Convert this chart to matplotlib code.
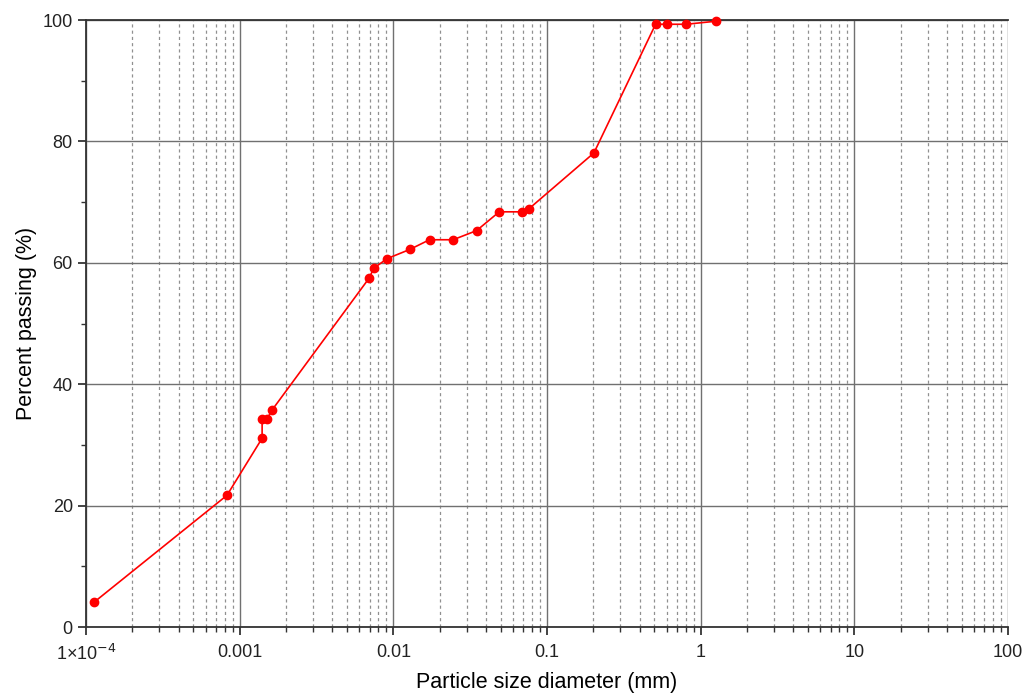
import numpy as np
import matplotlib
matplotlib.use("Agg")
import matplotlib.pyplot as plt
from matplotlib.ticker import LogLocator, FixedLocator, NullFormatter

plt.rcParams['font.family'] = ['Liberation Sans', 'DejaVu Sans']

# particle size (mm) and percent passing
size_mm = [1.13e-4, 8.27e-4, 1.40e-3, 1.40e-3, 1.51e-3, 1.62e-3,
           6.97e-3, 7.45e-3, 9.13e-3, 1.28e-2, 1.72e-2, 2.45e-2,
           3.48e-2, 4.89e-2, 6.90e-2, 7.63e-2, 0.202,
           0.509, 0.605, 0.805, 1.26]
passing = [4.1, 21.7, 31.1, 34.3, 34.3, 35.7,
           57.5, 59.1, 60.7, 62.2, 63.8, 63.8,
           65.3, 68.4, 68.4, 68.9, 78.1,
           99.3, 99.3, 99.3, 99.8]

x_ticks = [1e-4, 1e-3, 1e-2, 1e-1, 1, 10, 100]
x_labels = ["1×10$^{-4}$", "0.001", "0.01", "0.1", "1", "10", "100"]
y_ticks = [0, 20, 40, 60, 80, 100]

fig = plt.figure(figsize=(10.25, 6.97), dpi=100)
ax = fig.add_axes([0.0839, 0.1004, 0.8995, 0.8709])

ax.set_xscale('log')
ax.set_xlim(1e-4, 100)
ax.set_ylim(0, 100)

ax.plot(size_mm, passing, color='red', lw=1.2, marker='o', ms=6,
        markerfacecolor='red', markeredgecolor='red', zorder=3, clip_on=False)

ax.set_xticks(x_ticks)
ax.set_xticklabels(x_labels)
ax.xaxis.set_minor_locator(LogLocator(base=10, subs=np.arange(2, 10)))
ax.xaxis.set_minor_formatter(NullFormatter())
ax.set_yticks(y_ticks)
ax.yaxis.set_minor_locator(FixedLocator([10, 30, 50, 70, 90]))

ax.grid(which='major', axis='both', color='#707070', lw=1.0, ls='-')
ax.grid(which='minor', axis='x', color='#909090', lw=0.9, ls=(0, (2.5, 2.5)))
ax.set_axisbelow(True)

ax.spines['right'].set_visible(False)
for s in ['left', 'bottom', 'top']:
    ax.spines[s].set_linewidth(1.3)
    ax.spines[s].set_color('#333333')

ax.tick_params(which='major', direction='out', length=6, width=1.2, labelsize=13, colors='#222222')
ax.tick_params(which='minor', direction='out', length=3.5, width=1.0, colors='#333333')
ax.tick_params(axis='x', which='major', pad=6)

ax.set_xlabel("Particle size diameter (mm)", fontsize=15.5, labelpad=6)
ax.set_ylabel("Percent passing (%)", fontsize=15.5, labelpad=4)

fig.savefig("out.png", dpi=100)
